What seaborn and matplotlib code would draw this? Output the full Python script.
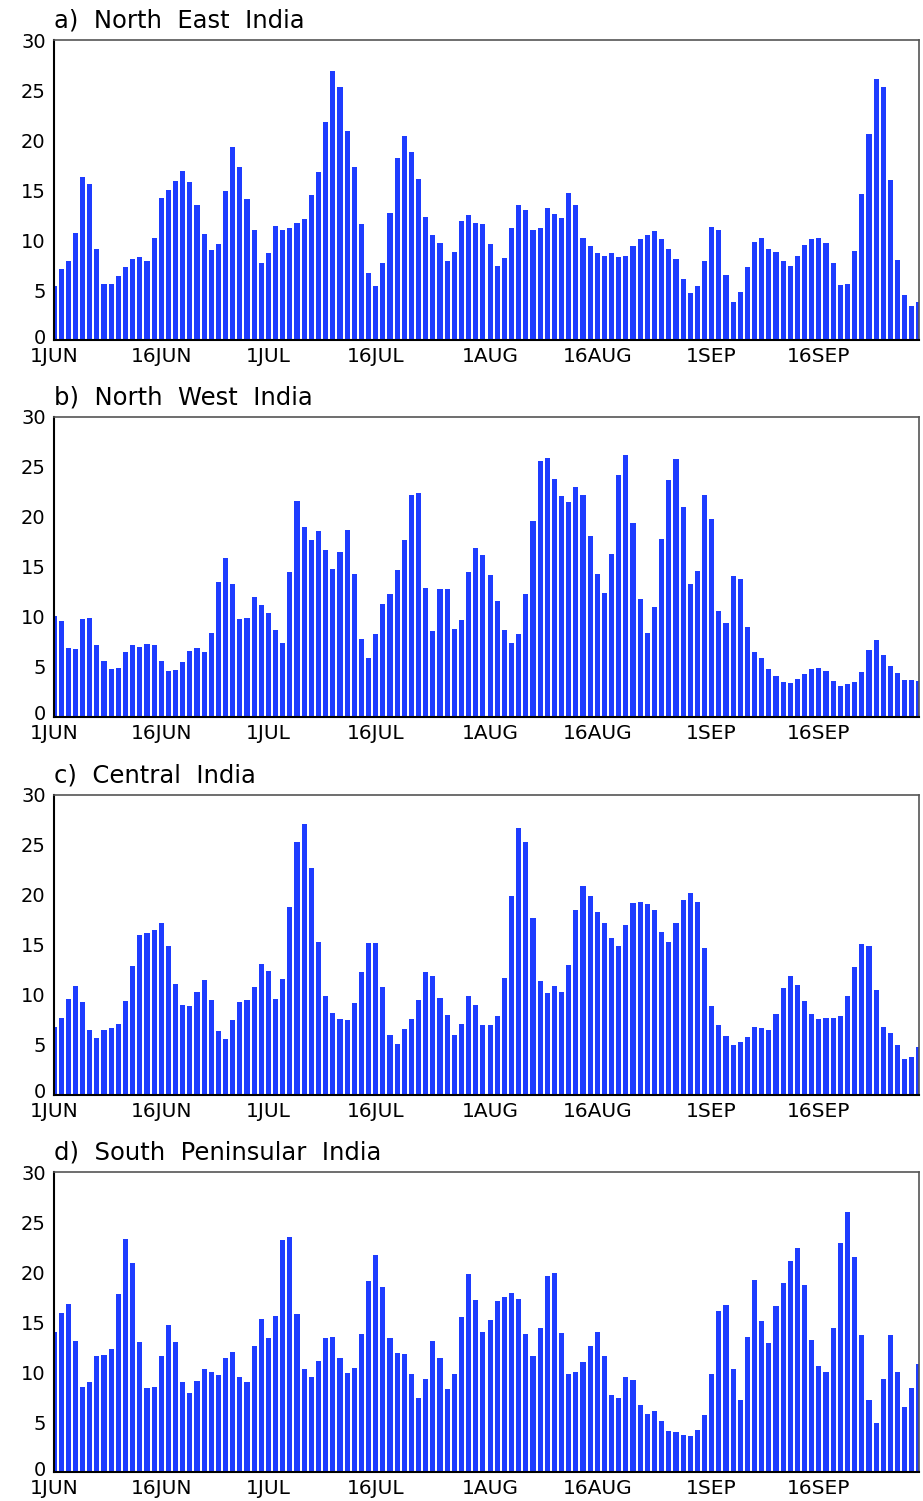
import numpy as np
import pandas as pd
import matplotlib
matplotlib.use("Agg")
import matplotlib.pyplot as plt
import matplotlib.transforms as mtransforms
import seaborn as sns

# ---- data (days 1 JUN .. 30 SEP, 122 values) ----
tick_labels = ["1JUN", "16JUN", "1JUL", "16JUL", "1AUG", "16AUG", "1SEP", "16SEP"]
tick_days = [0, 15, 30, 45, 61, 76, 92, 107]

titles = ["a)  North  East  India", "b)  North  West  India",
          "c)  Central  India", "d)  South  Peninsular  India"]

north_east = [5.4, 7.1, 7.9, 10.7, 16.3, 15.6, 9.1, 5.6, 5.6, 6.4,
              7.3, 8.1, 8.3, 7.9, 10.2, 14.2, 15.0, 15.9, 16.9, 15.8,
              13.5, 10.6, 9.0, 9.6, 14.9, 19.3, 17.3, 14.1, 11.0, 7.7,
              8.7, 11.4, 11.0, 11.2, 11.7, 12.1, 14.5, 16.8, 21.8, 26.9,
              25.3, 20.9, 17.3, 11.6, 6.7, 5.4, 7.7, 12.7, 18.2, 20.4,
              18.8, 16.1, 12.3, 10.5, 9.7, 7.9, 8.8, 11.9, 12.5, 11.7,
              11.6, 9.6, 7.4, 8.2, 11.2, 13.5, 13.0, 11.0, 11.2, 13.2,
              12.6, 12.2, 14.7, 13.5, 10.2, 9.4, 8.7, 8.4, 8.7, 8.3,
              8.4, 9.4, 10.1, 10.5, 10.9, 10.1, 9.1, 8.1, 6.1, 4.7,
              5.4, 7.9, 11.3, 11.0, 6.5, 3.8, 4.8, 7.3, 9.8, 10.2,
              9.1, 8.8, 7.9, 7.4, 8.4, 9.5, 10.1, 10.2, 9.7, 7.7,
              5.5, 5.6, 8.9, 14.6, 20.6, 26.1, 25.3, 16.0, 8.0, 4.5,
              3.4, 3.8]

north_west = [10.1, 9.6, 6.9, 6.8, 9.8, 9.9, 7.2, 5.6, 4.8, 4.9,
              6.5, 7.2, 7.0, 7.3, 7.2, 5.6, 4.6, 4.7, 5.5, 6.6,
              6.9, 6.5, 8.4, 13.5, 15.9, 13.3, 9.8, 9.9, 12.0, 11.2,
              10.4, 8.7, 7.4, 14.5, 21.6, 19.0, 17.7, 18.6, 16.7, 14.8,
              16.5, 18.7, 14.3, 7.8, 5.9, 8.3, 11.3, 12.3, 14.7, 17.7,
              22.2, 22.4, 12.9, 8.6, 12.8, 12.8, 8.8, 9.7, 14.5, 16.9,
              16.2, 14.2, 11.6, 8.7, 7.4, 8.3, 12.3, 19.6, 25.6, 25.9,
              23.8, 22.1, 21.5, 23.0, 22.2, 18.1, 14.3, 12.4, 16.3, 24.2,
              26.2, 19.4, 11.8, 8.4, 11.0, 17.8, 23.7, 25.8, 21.0, 13.3,
              14.6, 22.2, 19.8, 10.6, 9.4, 14.1, 13.8, 9.0, 6.5, 5.9,
              4.8, 4.1, 3.5, 3.4, 3.8, 4.3, 4.8, 4.9, 4.6, 3.6,
              3.1, 3.3, 3.5, 4.5, 6.7, 7.7, 6.2, 5.1, 4.4, 3.7,
              3.7, 3.6]

central = [6.8, 7.7, 9.6, 10.9, 9.3, 6.5, 5.7, 6.5, 6.7, 7.1,
           9.4, 12.9, 16.0, 16.2, 16.5, 17.2, 14.9, 11.1, 9.0, 8.9,
           10.3, 11.5, 9.5, 6.4, 5.6, 7.5, 9.3, 9.5, 10.8, 13.1,
           12.4, 9.6, 11.6, 18.8, 25.3, 27.1, 22.7, 15.3, 9.9, 8.2,
           7.6, 7.5, 9.2, 12.3, 15.2, 15.2, 10.8, 6.0, 5.1, 6.6,
           7.6, 9.5, 12.3, 11.9, 9.7, 8.0, 6.0, 7.1, 9.9, 9.0,
           7.0, 7.0, 7.9, 11.7, 19.9, 26.7, 25.3, 17.7, 11.4, 10.2,
           10.9, 10.3, 13.0, 18.5, 20.9, 19.9, 18.3, 17.2, 15.7, 14.9,
           17.0, 19.2, 19.3, 19.1, 18.5, 16.3, 15.3, 17.2, 19.5, 20.2,
           19.3, 14.7, 8.9, 7.0, 5.9, 5.0, 5.3, 5.8, 6.8, 6.7,
           6.5, 8.1, 10.7, 11.9, 11.0, 9.4, 8.1, 7.6, 7.7, 7.7,
           7.9, 9.9, 12.8, 15.1, 14.9, 10.5, 6.8, 6.2, 5.0, 3.6,
           3.8, 4.8]

south_pen = [14.0, 15.9, 16.8, 13.1, 8.5, 9.0, 11.6, 11.7, 12.3, 17.8,
             23.3, 20.9, 13.0, 8.4, 8.5, 11.6, 14.7, 13.0, 9.0, 7.9,
             9.1, 10.3, 10.0, 9.7, 11.4, 12.0, 9.5, 9.0, 12.6, 15.3,
             13.4, 15.6, 23.2, 23.5, 15.8, 10.3, 9.5, 11.1, 13.4, 13.5,
             11.4, 9.9, 10.4, 13.8, 19.1, 21.7, 18.5, 13.4, 11.9, 11.8,
             9.8, 7.4, 9.3, 13.1, 11.4, 8.3, 9.8, 15.5, 19.8, 17.2,
             14.0, 15.2, 17.1, 17.5, 17.9, 17.3, 13.8, 11.6, 14.4, 19.6,
             19.9, 13.9, 9.8, 10.0, 11.0, 12.6, 14.0, 11.6, 7.7, 7.4,
             9.5, 9.2, 6.7, 5.8, 6.1, 5.1, 4.1, 4.0, 3.7, 3.6,
             4.2, 5.7, 9.8, 16.1, 16.7, 10.3, 7.2, 13.5, 19.2, 15.1,
             12.9, 16.6, 18.9, 21.1, 22.4, 18.7, 13.2, 10.6, 10.0, 14.4,
             22.9, 26.0, 21.5, 13.7, 7.2, 4.9, 9.3, 13.7, 10.0, 6.5,
             8.4, 10.8]

series = [north_east, north_west, central, south_pen]

# ---- layout ----
W, H = 923, 1501
fig = plt.figure(figsize=(W / 100, H / 100), dpi=100)
sns.set_style("white")
plt.rcParams['font.family'] = ['DejaVu Sans']

bar_color = "#1e3cff"
tops = [40, 417, 795, 1172]
left_px, right_px, h_px = 54, 919, 300

for k, (vals, title, top) in enumerate(zip(series, titles, tops)):
    ax = fig.add_axes([left_px / W, 1 - (top + h_px) / H,
                       (right_px - left_px) / W, h_px / H])
    df = pd.DataFrame({"day": np.arange(len(vals)), "val": vals})
    sns.barplot(data=df, x="day", y="val", color=bar_color, saturation=1,
                width=0.72, linewidth=0, ax=ax)
    ax.set_xlim(0, len(vals) - 1)
    ax.set_ylim(0, 30)
    ax.set_yticks([0, 5, 10, 15, 20, 25, 30])
    ax.set_yticklabels(["0", "5", "10", "15", "20", "25", "30"], fontsize=14)
    ax.set_xticks(tick_days)
    ax.set_xticklabels(tick_labels, fontsize=14.5)
    ax.set_xlabel("")
    ax.set_ylabel("")
    ax.tick_params(axis="both", direction="out", length=4, width=1.2,
                   colors="black")
    ax.tick_params(axis="x", pad=1)
    ax.tick_params(axis="y", pad=2)
    # lift the "0" label slightly so it sits just above the date labels
    lbl0 = ax.get_yticklabels()[0]
    lbl0.set_transform(lbl0.get_transform() +
                       mtransforms.ScaledTranslation(0, 4 / 100, fig.dpi_scale_trans))
    for side in ["left", "bottom"]:
        ax.spines[side].set_color("black")
        ax.spines[side].set_linewidth(1.5)
    for side in ["top", "right"]:
        ax.spines[side].set_color("#555555")
        ax.spines[side].set_linewidth(1.2)
    ax.text(0.0, 1.025, title, transform=ax.transAxes, fontsize=17.5,
            ha="left", va="bottom", color="black")

fig.savefig("out.png", dpi=100)
